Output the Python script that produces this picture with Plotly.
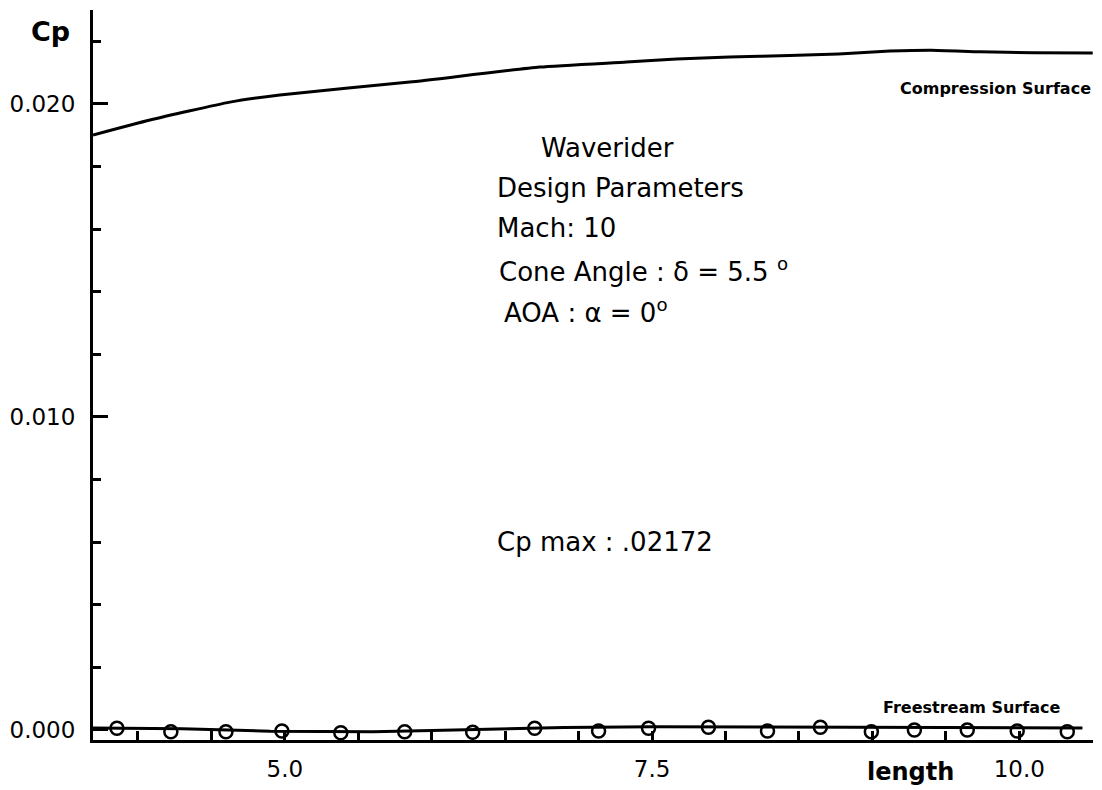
import plotly.graph_objects as go

# Compression surface Cp distribution
comp_x = [3.694, 4.082, 4.626, 4.966, 5.850, 6.735, 7.327, 7.667, 8.027, 8.435, 8.77, 9.12, 9.40, 9.73, 10.10, 10.50]
comp_cp = [0.01901, 0.01949, 0.02006, 0.02029, 0.02070, 0.02118, 0.02134, 0.02144, 0.02150, 0.02155, 0.02160, 0.02169, 0.02172, 0.02167, 0.02164, 0.02163]

# Freestream surface line
free_x = [3.694, 4.3, 4.9, 5.6, 6.0, 6.9, 7.5, 8.5, 9.5, 10.43]
free_cp = [0.00006, 0.00004, -0.00004, -0.00006, -0.00002, 0.00008, 0.0001, 0.0001, 0.00008, 0.00006]

# Freestream surface markers
mark_x = [3.857, 4.224, 4.599, 4.980, 5.381, 5.816, 6.279, 6.701, 7.136, 7.476, 7.884, 8.286,
          8.646, 8.993, 9.286, 9.646, 9.986, 10.327]
mark_cp = [0.000054, -0.000054, -0.000054, -0.000032, -0.000086, -0.000054, -0.000073, 0.000054,
           -0.000032, 0.000054, 0.000086, -0.000032, 0.000086, -0.000054, 0.0, 0.0, -0.000032, -0.000054]

x_tickvals = [5.0, 7.5, 10.0]
x_ticktext = ["5.0", "7.5", "10.0"]
y_tickvals = [0.0, 0.010, 0.020]
y_ticktext = ["0.000", "0.010", "0.020"]

FONT = "DejaVu Sans"

fig = go.Figure()
fig.add_trace(go.Scatter(x=comp_x, y=comp_cp, mode="lines", line=dict(color="black", width=3),
                         line_shape="spline", line_smoothing=0.5, showlegend=False))
fig.add_trace(go.Scatter(x=free_x, y=free_cp, mode="lines", line=dict(color="black", width=3),
                         showlegend=False))
fig.add_trace(go.Scatter(x=mark_x, y=mark_cp, mode="markers",
                         marker=dict(symbol="circle-open", size=13, color="black", line=dict(width=2.5)),
                         showlegend=False))

fig.update_layout(
    width=1094, height=782,
    margin=dict(l=85, r=9, t=2, b=50),
    paper_bgcolor="white", plot_bgcolor="white",
    font=dict(family=FONT, color="black"),
    xaxis=dict(range=[3.694, 10.502], showline=True, linecolor="black", linewidth=3,
               showgrid=False, zeroline=False, ticks="inside", ticklen=9, tickwidth=2.5,
               tickcolor="black", tickvals=x_tickvals, ticktext=x_ticktext,
               tickfont=dict(size=23, family=FONT), ticklabelstandoff=6,
               minor=dict(tickmode="linear", tick0=4.0, dtick=0.5, ticks="inside", ticklen=9,
                          tickwidth=2.5, tickcolor="black", showgrid=False)),
    yaxis=dict(range=[-0.00032, 0.023003], showline=True, linecolor="black", linewidth=3,
               showgrid=False, zeroline=False, ticks="inside", ticklen=15, tickwidth=3,
               tickcolor="black", tickvals=y_tickvals, ticktext=y_ticktext,
               tickfont=dict(size=23, family=FONT), ticklabelstandoff=10,
               minor=dict(tickmode="linear", tick0=0.0, dtick=0.002, ticks="inside", ticklen=8,
                          tickwidth=3, tickcolor="black", showgrid=False)),
)

def ann(text, x, y, size, xanchor="left", bold=False):
    if bold:
        text = "<b>" + text + "</b>"
    fig.add_annotation(text=text, x=x, y=y, xref="paper", yref="paper", xanchor=xanchor,
                       yanchor="middle", showarrow=False, font=dict(size=size, family=FONT, color="black"))

# page-pixel helpers (plot area spans page x 93..1093, y 10..740)
pl, pr, pt, pb = 93, 1093, 10, 740
def px(xp):
    return (xp - pl) / (pr - pl)
def py(yp):
    return (pb - yp) / (pb - pt)

ann("Cp", px(50), py(31), 27, xanchor="center", bold=True)
ann("length", px(910), py(772), 24, xanchor="center", bold=True)
ann("Waverider", px(607), py(148), 26, xanchor="center")
ann("Design Parameters", px(495), py(188), 26)
ann("Mach: 10", px(495), py(228), 26)
ann("Cone Angle : δ = 5.5 <sup>o</sup>", px(497), py(270), 26)
ann("AOA : α = 0<sup>o</sup>", px(502), py(311), 26)
ann("Cp max : .02172", px(495), py(542), 26)
ann("Compression Surface", px(1093), py(88), 16, xanchor="right", bold=True)
ann("Freestream Surface", px(1063), py(707), 16, xanchor="right", bold=True)

fig.write_html("out.html")
